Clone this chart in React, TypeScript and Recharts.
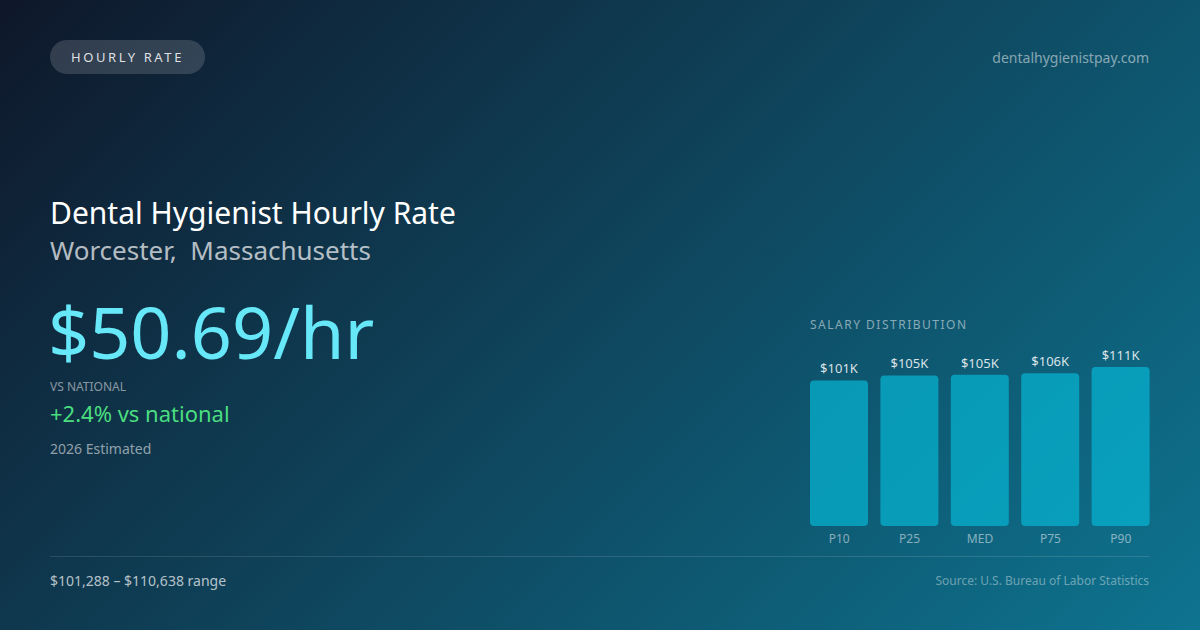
import { BarChart, Bar, XAxis, YAxis, LabelList } from "recharts";

const percentiles = ["P10", "P25", "MED", "P75", "P90"];
const salaries = [101288, 104800, 105300, 106300, 110638];

const data = percentiles.map((p, i) => ({ name: p, value: salaries[i] }));

const formatK = (val: any) => `$${Math.round(Number(val) / 1000)}K`;

const font = "'Noto Sans', 'Open Sans', sans-serif";

export default function App() {
    return (
        <div
            style={{
                position: "absolute",
                top: 0,
                left: 0,
                width: 1200,
                height: 630,
                overflow: "hidden",
                background: "linear-gradient(135deg, #0f172a 0%, #0e7490 100%)",
                fontFamily: font,
                color: "#fff",
            }}
        >
            {/* pill */}
            <div
                style={{
                    position: "absolute",
                    left: 50,
                    top: 40,
                    width: 155,
                    height: 34,
                    borderRadius: 17,
                    background: "rgba(255,255,255,0.15)",
                    display: "flex",
                    alignItems: "center",
                    justifyContent: "center",
                    fontSize: 13,
                    letterSpacing: 2.6,
                    color: "rgba(255,255,255,0.85)",
                }}
            >
                HOURLY RATE
            </div>

            <div style={{ position: "absolute", right: 51, top: 48, fontSize: 14, color: "rgba(255,255,255,0.5)" }}>
                dentalhygienistpay.com
            </div>

            <div style={{ position: "absolute", left: 50, top: 193, fontSize: 30, lineHeight: "40px", color: "#fff" }}>
                Dental Hygienist Hourly Rate
            </div>
            <div style={{ position: "absolute", left: 50, top: 233, fontSize: 26, lineHeight: "34px", color: "rgba(255,255,255,0.7)", whiteSpace: "pre" }}>
                {"Worcester,  Massachusetts"}
            </div>

            <div style={{ position: "absolute", left: 48, top: 283, fontSize: 72, lineHeight: "96px", color: "#67e8f9" }}>
                $50.69/hr
            </div>

            <div style={{ position: "absolute", left: 50, top: 379, fontSize: 12, lineHeight: "16px", color: "rgba(255,255,255,0.5)" }}>
                VS NATIONAL
            </div>
            <div style={{ position: "absolute", left: 50, top: 398, fontSize: 22, lineHeight: "30px", color: "#4ade80" }}>
                +2.4% vs national
            </div>
            <div style={{ position: "absolute", left: 50, top: 439, fontSize: 14, lineHeight: "20px", color: "rgba(255,255,255,0.55)" }}>
                2026 Estimated
            </div>

            <div style={{ position: "absolute", left: 810, top: 317, fontSize: 12, lineHeight: "16px", letterSpacing: 1.5, color: "rgba(255,255,255,0.5)" }}>
                SALARY DISTRIBUTION
            </div>

            <div style={{ position: "absolute", left: 804, top: 340 }}>
                <BarChart width={352} height={215} data={data} margin={{ top: 27, right: 0, left: 0, bottom: 0 }}>
                    <XAxis
                        dataKey="name"
                        axisLine={false}
                        tickLine={false}
                        height={29}
                        interval={0}
                        tick={{ fontSize: 12, fill: "rgba(255,255,255,0.5)", fontFamily: font }}
                    />
                    <YAxis hide domain={[0, "dataMax"]} />
                    <Bar dataKey="value" fill="#06b6d4" fillOpacity={0.7} barSize={58} radius={4} isAnimationActive={false}>
                        <LabelList
                            dataKey="value"
                            position="top"
                            offset={7}
                            formatter={formatK}
                            style={{ fontSize: 13, fill: "rgba(255,255,255,0.85)", fontFamily: font }}
                        />
                    </Bar>
                </BarChart>
            </div>

            <div style={{ position: "absolute", left: 50, top: 556, width: 1100, height: 1, background: "rgba(255,255,255,0.12)" }} />

            <div style={{ position: "absolute", left: 50, top: 571, fontSize: 14, lineHeight: "20px", color: "rgba(255,255,255,0.7)" }}>
                $101,288 – $110,638 range
            </div>
            <div style={{ position: "absolute", right: 51, top: 573, fontSize: 12, lineHeight: "16px", color: "rgba(255,255,255,0.4)" }}>
                Source: U.S. Bureau of Labor Statistics
            </div>
        </div>
    );
}
